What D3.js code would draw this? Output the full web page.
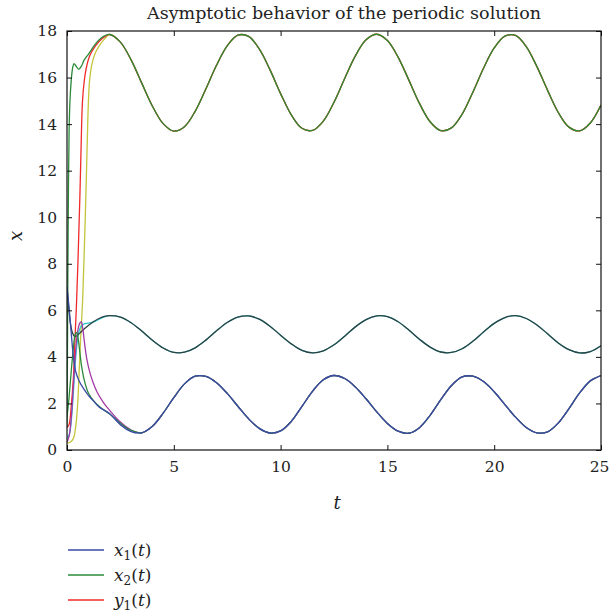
<!DOCTYPE html>
<html>
<head>
<meta charset="utf-8">
<script src="https://cdn.jsdelivr.net/npm/d3@7"></script>
<style>
  body { margin: 0; background: #fff; }
  text { font-family: 'DejaVu Serif', 'Liberation Serif', serif; fill: #222; }
</style>
</head>
<body>
<div id="chart"></div>
<script>
// ---------------- data ----------------

// steady state, sampled every 0.5 from t = 2 to t = 25
var steadyT = d3.range(2, 25.001, 0.5);

var topCycle = [17.85, 17.52, 16.76, 15.76, 14.77, 14.02, 13.70, 13.89, 14.55, 15.51,
  16.53, 17.36, 17.82, 17.77, 17.23, 16.34, 15.31, 14.40, 13.82, 13.73,
  14.13, 14.94, 15.96, 16.93, 17.62, 17.86, 17.59, 16.88, 15.90, 14.89,
  14.10, 13.72, 13.84, 14.43, 15.37, 16.40, 17.27, 17.78, 17.81, 17.33,
  16.47, 15.45, 14.50, 13.87, 13.71, 14.05, 14.82];

var midCycle = [5.77, 5.71, 5.47, 5.11, 4.71, 4.38, 4.19, 4.20, 4.39, 4.72,
  5.12, 5.48, 5.71, 5.76, 5.62, 5.32, 4.93, 4.56, 4.28, 4.17,
  4.26, 4.52, 4.89, 5.29, 5.60, 5.76, 5.73, 5.51, 5.16, 4.76,
  4.42, 4.21, 4.19, 4.35, 4.67, 5.07, 5.44, 5.69, 5.77, 5.65,
  5.37, 4.99, 4.60, 4.31, 4.17, 4.23, 4.48];

var lowCycle = [1.56, 1.09, 0.79, 0.74, 1.02, 1.58, 2.25, 2.84, 3.17, 3.16,
  2.89, 2.43, 1.88, 1.34, 0.93, 0.73, 0.82, 1.23, 1.87, 2.53,
  3.02, 3.20, 3.07, 2.71, 2.20, 1.64, 1.14, 0.81, 0.72, 0.96,
  1.49, 2.16, 2.77, 3.14, 3.17, 2.94, 2.50, 1.95, 1.41, 0.97,
  0.74, 0.78, 1.16, 1.78, 2.45, 2.97, 3.20];

// transients [t, value] before each curve settles on its cycle
var blueStart = [[0, 7.0], [0.1, 6.1], [0.2, 5.0], [0.3, 4.0], [0.4, 3.4], [0.55, 3.0],
  [0.8, 2.6], [1.0, 2.35], [1.25, 2.1], [1.5, 1.85]];
var greenLowStart = [[0, 1.4], [0.1, 2.3], [0.2, 3.4], [0.3, 4.4], [0.38, 4.95], [0.45, 5.05],
  [0.52, 4.8], [0.6, 4.2], [0.7, 3.5], [0.85, 2.85], [1.0, 2.45], [1.3, 2.05], [1.6, 1.8],
  [2.0, 1.55], [2.5, 1.15], [3.0, 0.84]];
var magentaStart = [[0, 0.35], [0.1, 0.6], [0.2, 1.4], [0.3, 2.8], [0.4, 4.2], [0.5, 5.1],
  [0.6, 5.45], [0.67, 5.5], [0.74, 5.2], [0.82, 4.6], [0.92, 3.95], [1.05, 3.4], [1.2, 2.95],
  [1.4, 2.5], [1.7, 2.05], [2.0, 1.7], [2.5, 1.2], [3.0, 0.86]];
var cyanStart = [[0, 0.55], [0.08, 0.62], [0.15, 0.85], [0.25, 1.8], [0.35, 3.2], [0.45, 4.4],
  [0.55, 5.05], [0.65, 5.3], [0.8, 5.42], [1.0, 5.45], [1.25, 5.5], [1.5, 5.62], [1.75, 5.72]];
var blackStart = [[0, 7.0], [0.08, 6.1], [0.16, 5.45], [0.25, 5.05], [0.35, 4.88], [0.45, 4.9],
  [0.6, 5.02], [0.8, 5.2], [1.0, 5.35], [1.25, 5.52], [1.5, 5.65], [1.75, 5.74]];
var yellowStart = [[0, 0.3], [0.15, 0.33], [0.3, 0.5], [0.42, 1.1], [0.5, 2.0], [0.58, 3.6],
  [0.65, 5.0], [0.73, 6.4], [0.8, 8.3], [0.88, 10.8], [0.95, 13.3], [1.0, 14.9], [1.06, 15.9],
  [1.15, 16.5], [1.3, 17.0], [1.5, 17.35], [1.75, 17.65]];
var redStart = [[0, 0.95], [0.1, 1.1], [0.2, 1.9], [0.3, 3.1], [0.38, 4.9], [0.45, 6.4],
  [0.53, 8.6], [0.6, 10.8], [0.66, 13.0], [0.72, 14.9], [0.8, 15.8], [0.9, 16.4], [1.05, 16.9],
  [1.25, 17.25], [1.5, 17.55], [1.8, 17.78]];
var greenTopStart = [[0, 1.0], [0.02, 4.0], [0.04, 7.5], [0.07, 11.5], [0.1, 13.8], [0.14, 15.0],
  [0.2, 15.9], [0.27, 16.45], [0.33, 16.6], [0.42, 16.5], [0.55, 16.35], [0.68, 16.5],
  [0.8, 16.75], [1.0, 17.0], [1.3, 17.4], [1.6, 17.7]];

var xTicks = [0, 5, 10, 15, 20, 25];
var yTicks = [0, 2, 4, 6, 8, 10, 12, 14, 16, 18];

var legendNames = [['x', '1'], ['x', '2'], ['y', '1']];

// ---------------- layout ----------------
var chart_width = 610;
var chart_height = 615;
var margin = { top: 31, right: 9, bottom: 165, left: 67 };
var w = chart_width - margin.left - margin.right;
var h = chart_height - margin.top - margin.bottom;
var serif = "'DejaVu Serif', 'Liberation Serif', serif";

var svg = d3.select('#chart')
  .append('svg')
  .attr('width', chart_width)
  .attr('height', chart_height);

var x_scale = d3.scaleLinear().domain([0, 25]).range([0, w]);
var y_scale = d3.scaleLinear().domain([0, 18]).range([h, 0]);

var g = svg.append('g')
  .attr('transform', 'translate(' + margin.left + ',' + margin.top + ')');

g.append('clipPath').attr('id', 'plot-clip')
  .append('rect').attr('width', w).attr('height', h);

// joins a transient with the cycle it settles on
function buildSeries(start, cycle) {
  var last = start[start.length - 1][0];
  var pts = start.slice();
  steadyT.forEach(function(t, i) {
    if (t > last) pts.push([t, cycle[i]]);
  });
  return pts;
}

var series = [
  { pts: buildSeries(yellowStart, topCycle), color: '#c4c43c' },
  { pts: buildSeries(redStart, topCycle), color: '#f02a2a' },
  { pts: buildSeries(greenTopStart, topCycle), color: '#2a8a3a' },
  { pts: buildSeries(cyanStart, midCycle), color: '#2cc8d2' },
  { pts: buildSeries(blackStart, midCycle), color: '#2e4040' },
  { pts: buildSeries(magentaStart, lowCycle), color: '#a23aa6' },
  { pts: buildSeries(greenLowStart, lowCycle), color: '#2a8a3a' },
  { pts: buildSeries(blueStart, lowCycle), color: '#3a4aa6' }
];

var line = d3.line()
  .x(function(d) { return x_scale(d[0]); })
  .y(function(d) { return y_scale(d[1]); })
  .curve(d3.curveCatmullRom.alpha(0.5));

g.append('g').attr('clip-path', 'url(#plot-clip)')
  .selectAll('path')
  .data(series)
  .enter()
  .append('path')
  .attr('d', function(d) { return line(d.pts); })
  .attr('fill', 'none')
  .attr('stroke', function(d) { return d.color; })
  .attr('stroke-width', 1.3);

// ---------------- axes (inward ticks on all four sides) ----------------
function styleAxis(sel) {
  sel.select('.domain').remove();
  sel.selectAll('line').attr('stroke', '#111');
  sel.selectAll('text').attr('font-size', 15.5)
    .style('font-family', serif).attr('fill', '#222');
}

g.append('g')
  .attr('transform', 'translate(0,' + h + ')')
  .call(d3.axisBottom(x_scale).tickValues(xTicks).tickSizeInner(-5).tickSizeOuter(0).tickPadding(11))
  .call(styleAxis)
  .selectAll('text')
  .filter(function(d) { return d === 25; })
  .attr('dx', -2);

g.append('g')
  .call(d3.axisTop(x_scale).tickValues(xTicks).tickSizeInner(-5).tickSizeOuter(0).tickFormat(''))
  .call(styleAxis);

g.append('g')
  .call(d3.axisLeft(y_scale).tickValues(yTicks).tickSizeInner(-5).tickSizeOuter(0).tickPadding(10))
  .call(styleAxis);

g.append('g')
  .attr('transform', 'translate(' + w + ',0)')
  .call(d3.axisRight(y_scale).tickValues(yTicks).tickSizeInner(-5).tickSizeOuter(0).tickFormat(''))
  .call(styleAxis);

g.append('rect')
  .attr('width', w).attr('height', h)
  .attr('fill', 'none').attr('stroke', '#111').attr('stroke-width', 1.2);

// ---------------- labels ----------------
svg.append('text')
  .attr('x', 344).attr('y', 19)
  .attr('text-anchor', 'middle')
  .attr('font-size', 17.5)
  .text('Asymptotic behavior of the periodic solution');

svg.append('text')
  .attr('x', 337).attr('y', 509)
  .attr('text-anchor', 'middle')
  .attr('font-size', 18).attr('font-style', 'italic')
  .text('t');

svg.append('text')
  .attr('transform', 'translate(22,236) rotate(-90)')
  .attr('text-anchor', 'middle')
  .attr('font-size', 18).attr('font-style', 'italic')
  .text('x');

// ---------------- legend ----------------
var legend = svg.append('g').attr('transform', 'translate(68,550)');
var legendColors = ['#3a4aa6', '#2a8a3a', '#f02a2a'];

var rows = legend.selectAll('g')
  .data(legendNames)
  .enter()
  .append('g')
  .attr('transform', function(d, i) { return 'translate(0,' + (i * 25) + ')'; });

rows.append('line')
  .attr('x1', 0).attr('x2', 36)
  .attr('stroke', function(d, i) { return legendColors[i]; })
  .attr('stroke-width', 1.3);

var lt = rows.append('text')
  .attr('x', 46).attr('y', 6)
  .attr('font-size', 17);
lt.append('tspan').attr('font-style', 'italic').text(function(d) { return d[0]; });
lt.append('tspan').attr('font-size', 12).attr('dy', 4).text(function(d) { return d[1]; });
lt.append('tspan').attr('dy', -4).text('(');
lt.append('tspan').attr('font-style', 'italic').text('t');
lt.append('tspan').text(')');
</script>
</body>
</html>
